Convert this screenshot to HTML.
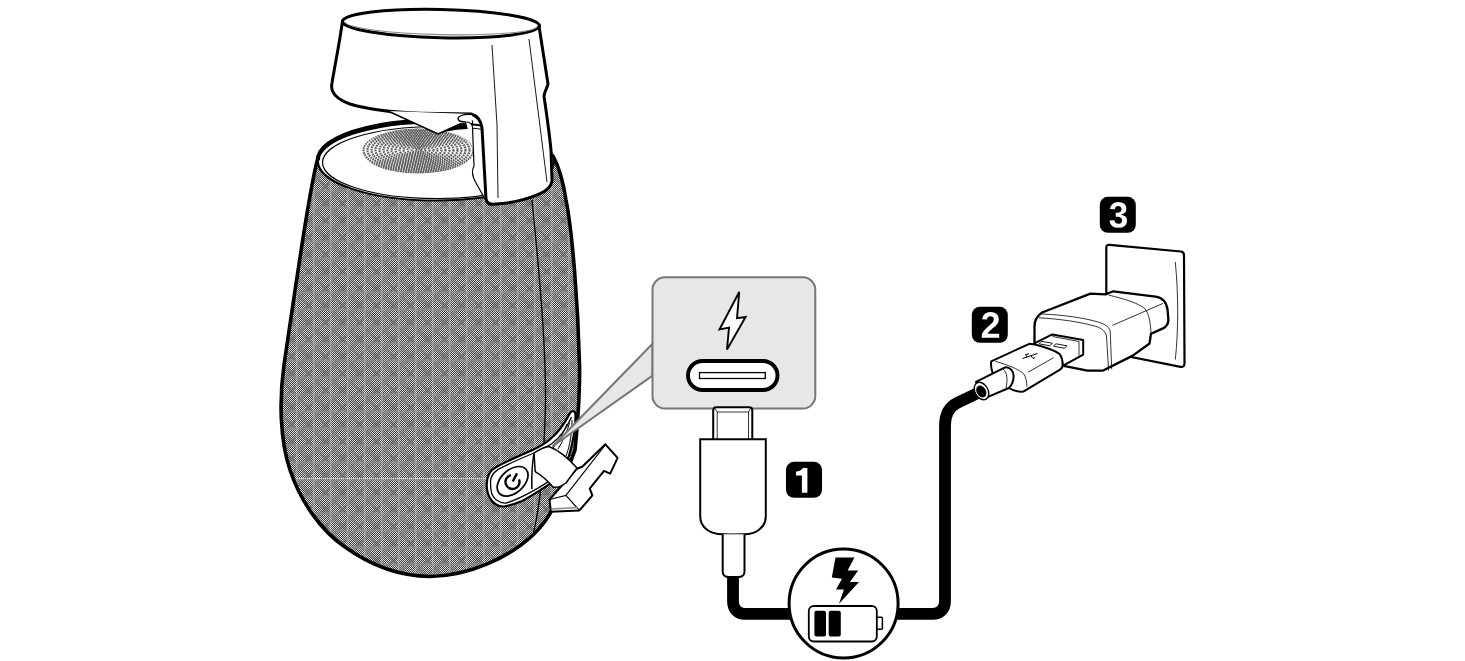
<!DOCTYPE html>
<html><head><meta charset="utf-8">
<style>
html,body{margin:0;padding:0;background:#fff;width:1465px;height:661px;overflow:hidden}
svg{display:block}
</style></head>
<body>
<svg width="1465" height="661" viewBox="0 0 1465 661">
<defs>
  <pattern id="chk" width="2" height="2" patternUnits="userSpaceOnUse">
    <rect width="2" height="2" fill="#fff"/>
    <rect width="1" height="1" fill="#000"/>
    <rect x="1" y="1" width="1" height="1" fill="#000"/>
  </pattern>
  <pattern id="fab" width="34" height="34" patternUnits="userSpaceOnUse" x="11" y="8">
    <rect width="34" height="34" fill="#e2e2e2"/>
    <path d="M0,0h1v1h-1zM2,0h1v1h-1zM4,0h1v1h-1zM6,0h1v1h-1zM8,0h1v1h-1zM10,0h1v1h-1zM12,0h1v1h-1zM14,0h1v1h-1zM16,0h1v1h-1zM18,0h1v1h-1zM20,0h1v1h-1zM22,0h1v1h-1zM24,0h1v1h-1zM26,0h1v1h-1zM28,0h1v1h-1zM30,0h1v1h-1zM32,0h1v1h-1zM1,1h1v1h-1zM3,1h1v1h-1zM5,1h1v1h-1zM7,1h1v1h-1zM9,1h1v1h-1zM11,1h1v1h-1zM13,1h1v1h-1zM15,1h1v1h-1zM17,1h1v1h-1zM19,1h1v1h-1zM21,1h1v1h-1zM23,1h1v1h-1zM25,1h1v1h-1zM27,1h1v1h-1zM29,1h1v1h-1zM31,1h1v1h-1zM33,1h1v1h-1zM0,2h1v1h-1zM2,2h1v1h-1zM4,2h1v1h-1zM6,2h1v1h-1zM8,2h1v1h-1zM10,2h1v1h-1zM12,2h1v1h-1zM14,2h1v1h-1zM16,2h1v1h-1zM18,2h1v1h-1zM20,2h1v1h-1zM22,2h1v1h-1zM24,2h1v1h-1zM26,2h1v1h-1zM28,2h1v1h-1zM30,2h1v1h-1zM32,2h1v1h-1zM1,3h1v1h-1zM3,3h1v1h-1zM5,3h1v1h-1zM7,3h1v1h-1zM9,3h1v1h-1zM11,3h1v1h-1zM13,3h1v1h-1zM15,3h1v1h-1zM17,3h1v1h-1zM19,3h1v1h-1zM21,3h1v1h-1zM23,3h1v1h-1zM25,3h1v1h-1zM27,3h1v1h-1zM29,3h1v1h-1zM31,3h1v1h-1zM33,3h1v1h-1zM0,4h1v1h-1zM2,4h1v1h-1zM4,4h1v1h-1zM6,4h1v1h-1zM8,4h1v1h-1zM10,4h1v1h-1zM12,4h1v1h-1zM14,4h1v1h-1zM16,4h1v1h-1zM18,4h1v1h-1zM20,4h1v1h-1zM22,4h1v1h-1zM24,4h1v1h-1zM26,4h1v1h-1zM28,4h1v1h-1zM30,4h1v1h-1zM32,4h1v1h-1zM1,5h1v1h-1zM3,5h1v1h-1zM5,5h1v1h-1zM7,5h1v1h-1zM9,5h1v1h-1zM11,5h1v1h-1zM13,5h1v1h-1zM15,5h1v1h-1zM17,5h1v1h-1zM19,5h1v1h-1zM21,5h1v1h-1zM23,5h1v1h-1zM25,5h1v1h-1zM27,5h1v1h-1zM29,5h1v1h-1zM31,5h1v1h-1zM33,5h1v1h-1zM0,6h1v1h-1zM2,6h1v1h-1zM4,6h1v1h-1zM6,6h1v1h-1zM8,6h1v1h-1zM10,6h1v1h-1zM12,6h1v1h-1zM14,6h1v1h-1zM16,6h1v1h-1zM18,6h1v1h-1zM20,6h1v1h-1zM22,6h1v1h-1zM24,6h1v1h-1zM26,6h1v1h-1zM28,6h1v1h-1zM30,6h1v1h-1zM32,6h1v1h-1zM1,7h1v1h-1zM3,7h1v1h-1zM5,7h1v1h-1zM7,7h1v1h-1zM9,7h1v1h-1zM11,7h1v1h-1zM13,7h1v1h-1zM15,7h1v1h-1zM17,7h1v1h-1zM19,7h1v1h-1zM21,7h1v1h-1zM23,7h1v1h-1zM25,7h1v1h-1zM27,7h1v1h-1zM29,7h1v1h-1zM31,7h1v1h-1zM33,7h1v1h-1zM0,8h1v1h-1zM2,8h1v1h-1zM4,8h1v1h-1zM6,8h1v1h-1zM8,8h1v1h-1zM10,8h1v1h-1zM12,8h1v1h-1zM14,8h1v1h-1zM16,8h1v1h-1zM18,8h1v1h-1zM20,8h1v1h-1zM22,8h1v1h-1zM24,8h1v1h-1zM26,8h1v1h-1zM28,8h1v1h-1zM30,8h1v1h-1zM32,8h1v1h-1zM1,9h1v1h-1zM3,9h1v1h-1zM5,9h1v1h-1zM7,9h1v1h-1zM9,9h1v1h-1zM11,9h1v1h-1zM13,9h1v1h-1zM15,9h1v1h-1zM17,9h1v1h-1zM19,9h1v1h-1zM21,9h1v1h-1zM23,9h1v1h-1zM25,9h1v1h-1zM27,9h1v1h-1zM29,9h1v1h-1zM31,9h1v1h-1zM33,9h1v1h-1zM0,10h1v1h-1zM2,10h1v1h-1zM4,10h1v1h-1zM6,10h1v1h-1zM8,10h1v1h-1zM10,10h1v1h-1zM12,10h1v1h-1zM14,10h1v1h-1zM16,10h1v1h-1zM18,10h1v1h-1zM20,10h1v1h-1zM22,10h1v1h-1zM24,10h1v1h-1zM26,10h1v1h-1zM28,10h1v1h-1zM30,10h1v1h-1zM32,10h1v1h-1zM1,11h1v1h-1zM3,11h1v1h-1zM5,11h1v1h-1zM7,11h1v1h-1zM9,11h1v1h-1zM11,11h1v1h-1zM13,11h1v1h-1zM15,11h1v1h-1zM17,11h1v1h-1zM19,11h1v1h-1zM21,11h1v1h-1zM23,11h1v1h-1zM25,11h1v1h-1zM27,11h1v1h-1zM29,11h1v1h-1zM31,11h1v1h-1zM33,11h1v1h-1zM0,12h1v1h-1zM2,12h1v1h-1zM4,12h1v1h-1zM6,12h1v1h-1zM8,12h1v1h-1zM10,12h1v1h-1zM12,12h1v1h-1zM14,12h1v1h-1zM16,12h1v1h-1zM18,12h1v1h-1zM20,12h1v1h-1zM22,12h1v1h-1zM24,12h1v1h-1zM26,12h1v1h-1zM28,12h1v1h-1zM30,12h1v1h-1zM32,12h1v1h-1zM1,13h1v1h-1zM3,13h1v1h-1zM5,13h1v1h-1zM7,13h1v1h-1zM9,13h1v1h-1zM11,13h1v1h-1zM13,13h1v1h-1zM15,13h1v1h-1zM17,13h1v1h-1zM19,13h1v1h-1zM21,13h1v1h-1zM23,13h1v1h-1zM25,13h1v1h-1zM27,13h1v1h-1zM29,13h1v1h-1zM31,13h1v1h-1zM33,13h1v1h-1zM0,14h1v1h-1zM2,14h1v1h-1zM4,14h1v1h-1zM6,14h1v1h-1zM8,14h1v1h-1zM10,14h1v1h-1zM12,14h1v1h-1zM14,14h1v1h-1zM16,14h1v1h-1zM18,14h1v1h-1zM20,14h1v1h-1zM22,14h1v1h-1zM24,14h1v1h-1zM26,14h1v1h-1zM28,14h1v1h-1zM30,14h1v1h-1zM32,14h1v1h-1zM1,15h1v1h-1zM3,15h1v1h-1zM5,15h1v1h-1zM7,15h1v1h-1zM9,15h1v1h-1zM11,15h1v1h-1zM13,15h1v1h-1zM15,15h1v1h-1zM17,15h1v1h-1zM19,15h1v1h-1zM21,15h1v1h-1zM23,15h1v1h-1zM25,15h1v1h-1zM27,15h1v1h-1zM29,15h1v1h-1zM31,15h1v1h-1zM33,15h1v1h-1zM0,16h1v1h-1zM2,16h1v1h-1zM4,16h1v1h-1zM6,16h1v1h-1zM8,16h1v1h-1zM10,16h1v1h-1zM12,16h1v1h-1zM14,16h1v1h-1zM16,16h1v1h-1zM18,16h1v1h-1zM20,16h1v1h-1zM22,16h1v1h-1zM24,16h1v1h-1zM26,16h1v1h-1zM28,16h1v1h-1zM30,16h1v1h-1zM32,16h1v1h-1zM1,17h1v1h-1zM3,17h1v1h-1zM5,17h1v1h-1zM7,17h1v1h-1zM9,17h1v1h-1zM11,17h1v1h-1zM13,17h1v1h-1zM15,17h1v1h-1zM17,17h1v1h-1zM19,17h1v1h-1zM21,17h1v1h-1zM23,17h1v1h-1zM25,17h1v1h-1zM27,17h1v1h-1zM29,17h1v1h-1zM31,17h1v1h-1zM33,17h1v1h-1zM0,18h1v1h-1zM2,18h1v1h-1zM4,18h1v1h-1zM6,18h1v1h-1zM8,18h1v1h-1zM10,18h1v1h-1zM12,18h1v1h-1zM14,18h1v1h-1zM16,18h1v1h-1zM18,18h1v1h-1zM20,18h1v1h-1zM22,18h1v1h-1zM24,18h1v1h-1zM26,18h1v1h-1zM28,18h1v1h-1zM30,18h1v1h-1zM32,18h1v1h-1zM1,19h1v1h-1zM3,19h1v1h-1zM5,19h1v1h-1zM7,19h1v1h-1zM9,19h1v1h-1zM11,19h1v1h-1zM13,19h1v1h-1zM15,19h1v1h-1zM17,19h1v1h-1zM19,19h1v1h-1zM21,19h1v1h-1zM23,19h1v1h-1zM25,19h1v1h-1zM27,19h1v1h-1zM29,19h1v1h-1zM31,19h1v1h-1zM33,19h1v1h-1zM0,20h1v1h-1zM2,20h1v1h-1zM4,20h1v1h-1zM6,20h1v1h-1zM8,20h1v1h-1zM10,20h1v1h-1zM12,20h1v1h-1zM14,20h1v1h-1zM16,20h1v1h-1zM18,20h1v1h-1zM20,20h1v1h-1zM22,20h1v1h-1zM24,20h1v1h-1zM26,20h1v1h-1zM28,20h1v1h-1zM30,20h1v1h-1zM32,20h1v1h-1zM1,21h1v1h-1zM3,21h1v1h-1zM5,21h1v1h-1zM7,21h1v1h-1zM9,21h1v1h-1zM11,21h1v1h-1zM13,21h1v1h-1zM15,21h1v1h-1zM17,21h1v1h-1zM19,21h1v1h-1zM21,21h1v1h-1zM23,21h1v1h-1zM25,21h1v1h-1zM27,21h1v1h-1zM29,21h1v1h-1zM31,21h1v1h-1zM33,21h1v1h-1zM0,22h1v1h-1zM2,22h1v1h-1zM4,22h1v1h-1zM6,22h1v1h-1zM8,22h1v1h-1zM10,22h1v1h-1zM12,22h1v1h-1zM14,22h1v1h-1zM16,22h1v1h-1zM18,22h1v1h-1zM20,22h1v1h-1zM22,22h1v1h-1zM24,22h1v1h-1zM26,22h1v1h-1zM28,22h1v1h-1zM30,22h1v1h-1zM32,22h1v1h-1zM1,23h1v1h-1zM3,23h1v1h-1zM5,23h1v1h-1zM7,23h1v1h-1zM9,23h1v1h-1zM11,23h1v1h-1zM13,23h1v1h-1zM15,23h1v1h-1zM17,23h1v1h-1zM19,23h1v1h-1zM21,23h1v1h-1zM23,23h1v1h-1zM25,23h1v1h-1zM27,23h1v1h-1zM29,23h1v1h-1zM31,23h1v1h-1zM33,23h1v1h-1zM0,24h1v1h-1zM2,24h1v1h-1zM4,24h1v1h-1zM6,24h1v1h-1zM8,24h1v1h-1zM10,24h1v1h-1zM12,24h1v1h-1zM14,24h1v1h-1zM16,24h1v1h-1zM18,24h1v1h-1zM20,24h1v1h-1zM22,24h1v1h-1zM24,24h1v1h-1zM26,24h1v1h-1zM28,24h1v1h-1zM30,24h1v1h-1zM32,24h1v1h-1zM1,25h1v1h-1zM3,25h1v1h-1zM5,25h1v1h-1zM7,25h1v1h-1zM9,25h1v1h-1zM11,25h1v1h-1zM13,25h1v1h-1zM15,25h1v1h-1zM17,25h1v1h-1zM19,25h1v1h-1zM21,25h1v1h-1zM23,25h1v1h-1zM25,25h1v1h-1zM27,25h1v1h-1zM29,25h1v1h-1zM31,25h1v1h-1zM33,25h1v1h-1zM0,26h1v1h-1zM2,26h1v1h-1zM4,26h1v1h-1zM6,26h1v1h-1zM8,26h1v1h-1zM10,26h1v1h-1zM12,26h1v1h-1zM14,26h1v1h-1zM16,26h1v1h-1zM18,26h1v1h-1zM20,26h1v1h-1zM22,26h1v1h-1zM24,26h1v1h-1zM26,26h1v1h-1zM28,26h1v1h-1zM30,26h1v1h-1zM32,26h1v1h-1zM1,27h1v1h-1zM3,27h1v1h-1zM5,27h1v1h-1zM7,27h1v1h-1zM9,27h1v1h-1zM11,27h1v1h-1zM13,27h1v1h-1zM15,27h1v1h-1zM17,27h1v1h-1zM19,27h1v1h-1zM21,27h1v1h-1zM23,27h1v1h-1zM25,27h1v1h-1zM27,27h1v1h-1zM29,27h1v1h-1zM31,27h1v1h-1zM33,27h1v1h-1zM0,28h1v1h-1zM2,28h1v1h-1zM4,28h1v1h-1zM6,28h1v1h-1zM8,28h1v1h-1zM10,28h1v1h-1zM12,28h1v1h-1zM14,28h1v1h-1zM16,28h1v1h-1zM18,28h1v1h-1zM20,28h1v1h-1zM22,28h1v1h-1zM24,28h1v1h-1zM26,28h1v1h-1zM28,28h1v1h-1zM30,28h1v1h-1zM32,28h1v1h-1zM1,29h1v1h-1zM3,29h1v1h-1zM5,29h1v1h-1zM7,29h1v1h-1zM9,29h1v1h-1zM11,29h1v1h-1zM13,29h1v1h-1zM15,29h1v1h-1zM17,29h1v1h-1zM19,29h1v1h-1zM21,29h1v1h-1zM23,29h1v1h-1zM25,29h1v1h-1zM27,29h1v1h-1zM29,29h1v1h-1zM31,29h1v1h-1zM33,29h1v1h-1zM0,30h1v1h-1zM2,30h1v1h-1zM4,30h1v1h-1zM6,30h1v1h-1zM8,30h1v1h-1zM10,30h1v1h-1zM12,30h1v1h-1zM14,30h1v1h-1zM16,30h1v1h-1zM18,30h1v1h-1zM20,30h1v1h-1zM22,30h1v1h-1zM24,30h1v1h-1zM26,30h1v1h-1zM28,30h1v1h-1zM30,30h1v1h-1zM32,30h1v1h-1zM1,31h1v1h-1zM3,31h1v1h-1zM5,31h1v1h-1zM7,31h1v1h-1zM9,31h1v1h-1zM11,31h1v1h-1zM13,31h1v1h-1zM15,31h1v1h-1zM17,31h1v1h-1zM19,31h1v1h-1zM21,31h1v1h-1zM23,31h1v1h-1zM25,31h1v1h-1zM27,31h1v1h-1zM29,31h1v1h-1zM31,31h1v1h-1zM33,31h1v1h-1zM0,32h1v1h-1zM2,32h1v1h-1zM4,32h1v1h-1zM6,32h1v1h-1zM8,32h1v1h-1zM10,32h1v1h-1zM12,32h1v1h-1zM14,32h1v1h-1zM16,32h1v1h-1zM18,32h1v1h-1zM20,32h1v1h-1zM22,32h1v1h-1zM24,32h1v1h-1zM26,32h1v1h-1zM28,32h1v1h-1zM30,32h1v1h-1zM32,32h1v1h-1zM1,33h1v1h-1zM3,33h1v1h-1zM5,33h1v1h-1zM7,33h1v1h-1zM9,33h1v1h-1zM11,33h1v1h-1zM13,33h1v1h-1zM15,33h1v1h-1zM17,33h1v1h-1zM19,33h1v1h-1zM21,33h1v1h-1zM23,33h1v1h-1zM25,33h1v1h-1zM27,33h1v1h-1zM29,33h1v1h-1zM31,33h1v1h-1zM33,33h1v1h-1z" fill="#363636"/>
    <g transform="translate(0,0)">
      <path d="M0,0 L17,17 M17,0 L0,17" stroke="#7c7c7c" stroke-width="3.2" opacity="0.55"/>
      <path d="M5.5,5.5 L11.5,11.5 M11.5,5.5 L5.5,11.5" stroke="#3a3a3a" stroke-width="1.6" opacity="0.25"/>
      <rect x="0" y="11" width="17" height="3" fill="#8e8e8e" opacity="0.45"/>
      <rect x="13" y="0" width="1.5" height="17" fill="#d4d4d4" opacity="0.35"/>
    </g><g transform="translate(0,17)">
      <path d="M0,0 L17,17 M17,0 L0,17" stroke="#7c7c7c" stroke-width="3.2" opacity="0.55"/>
      <path d="M5.5,5.5 L11.5,11.5 M11.5,5.5 L5.5,11.5" stroke="#3a3a3a" stroke-width="1.6" opacity="0.25"/>
      <rect x="0" y="11" width="17" height="3" fill="#8e8e8e" opacity="0.45"/>
      <rect x="13" y="0" width="1.5" height="17" fill="#d4d4d4" opacity="0.35"/>
    </g><g transform="translate(17,0)">
      <path d="M0,0 L17,17 M17,0 L0,17" stroke="#7c7c7c" stroke-width="3.2" opacity="0.55"/>
      <path d="M5.5,5.5 L11.5,11.5 M11.5,5.5 L5.5,11.5" stroke="#3a3a3a" stroke-width="1.6" opacity="0.25"/>
      <rect x="0" y="11" width="17" height="3" fill="#8e8e8e" opacity="0.45"/>
      <rect x="13" y="0" width="1.5" height="17" fill="#d4d4d4" opacity="0.35"/>
    </g><g transform="translate(17,17)">
      <path d="M0,0 L17,17 M17,0 L0,17" stroke="#7c7c7c" stroke-width="3.2" opacity="0.55"/>
      <path d="M5.5,5.5 L11.5,11.5 M11.5,5.5 L5.5,11.5" stroke="#3a3a3a" stroke-width="1.6" opacity="0.25"/>
      <rect x="0" y="11" width="17" height="3" fill="#8e8e8e" opacity="0.45"/>
      <rect x="13" y="0" width="1.5" height="17" fill="#d4d4d4" opacity="0.35"/>
    </g>
  </pattern>
  <pattern id="grl" width="3" height="3" patternUnits="userSpaceOnUse">
    <rect width="3" height="3" fill="#fff"/>
    <rect width="2" height="2" fill="#555"/>
  </pattern>
</defs>

<!-- ===== SPEAKER BODY ===== -->
<path d="M318.5,156 C311,180 298,270 284,365 C279,400 280,440 290,470 C300,500 320,530 345,547 C370,565 400,576 430,576.5 C470,576 510,557 534,534 C546,522 553,510 556,500 L575,450 C578,420 580,390 579.5,365 C578,300 572,230 566,200 C563,180 558,165 553,156 Z" fill="url(#fab)" stroke="#000" stroke-width="3.6"/>
<!-- horizontal seam -->
<path d="M297,478.4 L488,478.4" stroke="#fff" stroke-width="1" stroke-dasharray="1 1" opacity="0.9"/>
<!-- inner seam line -->
<path d="M532,200 C538,260 548,360 545,420 C543,470 541,500 533.7,532" fill="none" stroke="#000" stroke-width="1.3"/>

<!-- top disc -->
<ellipse cx="436" cy="161.5" rx="118" ry="39" fill="#fff" stroke="#000" stroke-width="2"/>
<ellipse cx="436.5" cy="162.5" rx="114" ry="36" fill="none" stroke="#000" stroke-width="1.2"/>
<path d="M318,161.5 A118,39 0 0 1 473,123.5" transform="translate(0,-1.2)" fill="none" stroke="#000" stroke-width="3.8"/>
<!-- grille -->
<clipPath id="grclip"><ellipse cx="418" cy="151" rx="56" ry="22.5"/></clipPath>
<g clip-path="url(#grclip)" fill="none" stroke="#5a5a5a" stroke-width="2.2" stroke-dasharray="1.7 0.8">
  <ellipse cx="418.5" cy="150" rx="3" ry="1.3"/>
  <ellipse cx="418.5" cy="150" rx="7" ry="2.9"/>
  <ellipse cx="418.5" cy="150" rx="11" ry="4.5"/>
  <ellipse cx="418.5" cy="150" rx="15" ry="6.1"/>
  <ellipse cx="418.5" cy="150" rx="19" ry="7.7"/>
  <ellipse cx="418.5" cy="150" rx="23" ry="9.3"/>
  <ellipse cx="418.5" cy="150" rx="27" ry="10.9"/>
  <ellipse cx="418.5" cy="150" rx="31" ry="12.5"/>
  <ellipse cx="418.5" cy="150" rx="35" ry="14.1"/>
  <ellipse cx="418.5" cy="150" rx="39" ry="15.7"/>
  <ellipse cx="418.5" cy="150" rx="43" ry="17.3"/>
  <ellipse cx="418.5" cy="150" rx="47" ry="18.9"/>
  <ellipse cx="418.5" cy="150" rx="51" ry="20.5"/>
  <ellipse cx="418.5" cy="150" rx="55" ry="22.1"/>
  <ellipse cx="418.5" cy="150" rx="59" ry="23.7"/>
</g>

<!-- ===== CAP ===== -->
<path d="M342.5,21 C340,40 335,65 332,83 C330,92 336,99 350,104 C370,110 395,112.5 420,113.2 L471,114 C478,116 481,121 482,128 L486,199 C487,204 491,205 496,204 C515,203 535,197 545,191 C549,188 552,185 552,180 L551,150 C549,130 546,110 544,96 C545,90 548,86 548,84 L539,26 Z" fill="#fff" stroke="#000" stroke-width="3" stroke-linejoin="round"/>
<!-- underside V -->
<path d="M388,111 L438,134 L461,123.5 L472,123 L471,114 Z" fill="#fff"/>
<path d="M438,134 L461,123.5 L472.5,123 L473,129 C460,129 450,130 438,134 Z" fill="#000"/>
<path d="M388,111 L438,134 L461,123.5" fill="none" stroke="#000" stroke-width="1.5" stroke-linejoin="miter"/>
<path d="M466,122 C470,122 472,124 472.5,127 L474,166 C471,171 472,176 476,183 L485,199" fill="#fff" stroke="#000" stroke-width="1.2"/>
<path d="M473,114.5 C465,114 459,115 458,118.5 C458,121 462,122 466,122" fill="#fff" stroke="#000" stroke-width="1.4"/>
<!-- cap top ellipse -->
<ellipse cx="441" cy="23.6" rx="98.5" ry="14.1" transform="rotate(1.3 441 23.6)" fill="#fff" stroke="#000" stroke-width="3"/>
<path d="M345,24 A96,10.6 0 0 0 537,24" transform="rotate(1.3 441 24.5)" fill="none" stroke="#888" stroke-width="1.1"/>
<!-- cap lines -->
<path d="M492,45 L497,125 L498,198" fill="none" stroke="#000" stroke-width="0.9"/>
<path d="M529,39 L547,182" fill="none" stroke="#000" stroke-width="0.9"/>

<!-- ===== POWER TAB / CLIP ===== -->
<!-- clip block -->
<path d="M549.5,499.5 L576.8,468.8 L582.2,466.8 L605.4,444.3 L617.6,457.9 L610.2,473.6 L604,470.9 L589.7,488.6 L592.4,495.4 L579.5,510.4 L550.9,511.7 Z" fill="#fff" stroke="#000" stroke-width="2" stroke-linejoin="round"/>
<path d="M549.5,499.5 L565.9,495.4 L579.5,510.4 M565.9,495.4 L604.5,446" fill="none" stroke="#000" stroke-width="1.2"/>
<path d="M551,509 L578,507.5" fill="none" stroke="#888" stroke-width="1.5"/>
<!-- strap loop -->
<path d="M486.7,485.7 C486.5,477 490,470 496,467.2 C505,462 520,455.5 533,449.8 C540,446.5 545,443.5 549.3,440 C558,433 565,423 570,413 C571.5,410.5 575,410.5 575.5,414 C576,428 573,442 569,456 L554,481.4 C548,485 545,487 540.6,490 C534,494 528,498 522.1,501 C516,503.5 510,505.5 504.7,506.4 C494,507.5 487,497 486.7,485.7 Z" fill="#fff" stroke="#000" stroke-width="2.2" stroke-linejoin="round"/>
<path d="M571.5,417 C567,427 561,437 552,443.5 C546,447 540,450 534,453 C522,458 508,464 498.2,469.4 C493,473 490.5,477 490.5,481.4 C490.5,486 490.8,490 491.6,493.3 C493,497 495,499.5 498.2,501 C500.5,502.5 503,503.2 505.8,503.1 C517,500 528,494 538.4,487.9 L554,478.1" fill="none" stroke="#000" stroke-width="1.3"/>
<path d="M572,420 C572,432 570,446 566,456 M558,449 C563,441 567,432 569.5,423 M553,448 C559,441 564,432 567,424" fill="none" stroke="#000" stroke-width="1"/>
<!-- twisted ribbon -->
<path d="M534,453 C540,449 545,447 549,446.5 C558,450 569,459 577,468 L566,483 C560,487 556,488 553,487 C547,480 541,475 535.2,471.6 Z" fill="#fff" stroke="#000" stroke-width="1.5" stroke-linejoin="round"/>
<!-- button pad -->
<path d="M534,453 C532,465 531.5,478 531.9,489" fill="none" stroke="#000" stroke-width="1.5"/>
<ellipse cx="512.6" cy="481.3" rx="18" ry="11.5" transform="rotate(-42 512.6 481.3)" fill="#fff" stroke="#000" stroke-width="1.7"/>
<g transform="rotate(28 512.5 481.9)">
<path d="M508,476.6 A7,7 0 1 0 517,476.6" fill="none" stroke="#000" stroke-width="2.4"/>
<line x1="512.5" y1="472.3" x2="512.5" y2="481.5" stroke="#000" stroke-width="2.4"/>
</g>

<!-- ===== CALLOUT ===== -->
<path d="M652.5,343.8 L553,446 L652.5,375.6 Z" fill="#e6e7e8" stroke="#767676" stroke-width="2" stroke-linejoin="round"/>
<rect x="652.5" y="277.3" width="162.8" height="131.2" rx="12.5" fill="#e6e7e8" stroke="#767676" stroke-width="2"/>
<rect x="654" y="344.8" width="4" height="29.8" fill="#e6e7e8"/>
<!-- lightning outline -->
<path d="M739.2,292 L719.5,329.5 L729,327.6 L727,349.5 L745.6,317 L737,318.2 Z" fill="#fff" stroke="#000" stroke-width="1.9" stroke-linejoin="miter"/>
<!-- usb-c port -->
<rect x="688" y="361" width="89.5" height="29" rx="14.5" fill="#fff" stroke="#000" stroke-width="3.9"/>
<rect x="699.5" y="372.6" width="65.8" height="5.9" fill="#fff" stroke="#000" stroke-width="1.3"/>

<!-- ===== USB-C PLUG ===== -->
<path d="M713.2,440 L713.2,410.5 C713.2,408.5 714.5,407.2 716.5,407.2 L749,407.2 C751,407.2 752.3,408.5 752.3,410.5 L752.3,440 Z" fill="#fff" stroke="#000" stroke-width="2"/>
<path d="M717.2,440 L717.2,412 L748.5,412 L748.5,440 M715,408.5 L717.2,412 M750.5,408.5 L748.5,412" fill="none" stroke="#000" stroke-width="0.8"/>
<path d="M700.2,439.2 L765.8,439.2 L765.8,516.5 C765.8,528 755,534.3 744.5,534.3 L722.7,534.3 C711,534.3 700.2,528 700.2,516.5 Z" fill="#fff" stroke="#000" stroke-width="2"/>
<path d="M722.7,534.3 L722.7,571.5 C722.7,575 725,577.1 729,577.1 L738,577.1 C742,577.1 744.5,575 744.5,571.5 L744.5,534.3" fill="#fff" stroke="#000" stroke-width="2"/>
<path d="M727,533.8 L739,533.8" stroke="#999" stroke-width="0.8"/>

<!-- ===== CABLE ===== -->
<path d="M733,576 L733,601 C733,609 737.5,613.8 745,613.8 L800,613.8 M890,613.8 L932.5,613.8 C940.5,613.8 945,609 945,601 L945,426 C945,414 949,407 957,403 L982,391" fill="none" stroke="#000" stroke-width="11.8"/>

<!-- ===== CHARGE CIRCLE ===== -->
<circle cx="843.6" cy="603.5" r="54.5" fill="#fff" stroke="#000" stroke-width="3"/>
<path d="M835.5,557.6 L854.5,557.6 L847.6,570.4 L858.2,570.4 L849.9,582.1 L859,582.1 L839,603.7 L843.9,589.6 L836,589.6 L842,578.7 L831.8,577.5 Z" fill="#000"/>
<rect x="808.8" y="606" width="68" height="35.5" rx="5" fill="#fff" stroke="#000" stroke-width="1.8"/>
<rect x="877" y="617.3" width="5.4" height="12" rx="1" fill="#fff" stroke="#000" stroke-width="1.5"/>
<rect x="814.4" y="610.8" width="11.6" height="25.7" rx="2" fill="#000"/>
<rect x="828.7" y="610.8" width="12.1" height="25.7" rx="2" fill="#000"/>

<!-- ===== BADGES ===== -->
<rect x="786" y="461.8" width="36" height="36" rx="8" fill="#000"/>
<path d="M803,467.9 L807.4,467.9 L807.4,492.8 L801.9,492.8 L801.9,475.6 L796,475.6 L796,471.6 C799,471.2 801.6,470 803,467.9 Z" fill="#fff"/>
<rect x="971.8" y="306.8" width="36" height="36" rx="8" fill="#000"/>
<rect x="1099.8" y="196.8" width="36" height="36" rx="8" fill="#000"/>
<path transform="translate(980.547,337.800) scale(0.01765,-0.01797)" d="M71 0V195Q126 316 227.5 431.0Q329 546 483 671Q631 791 690.5 869.0Q750 947 750 1022Q750 1206 565 1206Q475 1206 427.5 1157.5Q380 1109 366 1012L83 1028Q107 1224 229.5 1327.0Q352 1430 563 1430Q791 1430 913.0 1326.0Q1035 1222 1035 1034Q1035 935 996.0 855.0Q957 775 896.0 707.5Q835 640 760.5 581.0Q686 522 616.0 466.0Q546 410 488.5 353.0Q431 296 403 231H1057V0Z" fill="#fff"/>
<path transform="translate(1108.692,227.393) scale(0.01719,-0.01769)" d="M1065 391Q1065 193 935.0 85.0Q805 -23 565 -23Q338 -23 204.0 81.5Q70 186 47 383L333 408Q360 205 564 205Q665 205 721.0 255.0Q777 305 777 408Q777 502 709.0 552.0Q641 602 507 602H409V829H501Q622 829 683.0 878.5Q744 928 744 1020Q744 1107 695.5 1156.5Q647 1206 554 1206Q467 1206 413.5 1158.0Q360 1110 352 1022L71 1042Q93 1224 222.0 1327.0Q351 1430 559 1430Q780 1430 904.5 1330.5Q1029 1231 1029 1055Q1029 923 951.5 838.0Q874 753 728 725V721Q890 702 977.5 614.5Q1065 527 1065 391Z" fill="#fff"/>

<!-- ===== WALL PLATE ===== -->
<path d="M1106.3,247.5 C1106.3,245.5 1107.5,244.6 1109.5,244.8 L1181,251.5 C1183,251.8 1184,253 1184,255.5 L1184.5,363.5 C1184.5,366 1183,367.3 1180.5,366.8 L1106.3,352 Z" fill="#fff" stroke="#000" stroke-width="2.2" stroke-linejoin="round"/>
<path d="M1175.3,262 C1178.5,295 1178.5,330 1175.3,359.6" fill="none" stroke="#000" stroke-width="0.8"/>

<!-- ===== CHARGER ===== -->
<path d="M1042.1,312.5 C1037,316 1034.5,320 1034.5,326 L1034.5,352 L1064.8,366.2 L1087.5,370.7 L1102.6,370.7 L1132.8,355.6 L1149.5,343.5 L1151,333.7 L1163,328.4 C1166.5,326.5 1168.4,324.5 1168.4,320 L1167.6,310 C1166.5,302 1162,297.5 1155.5,296.6 L1113.2,291.3 L1105.6,294.4 L1090.5,293.6 Z" fill="#fff" stroke="#000" stroke-width="2.3" stroke-linejoin="round"/>
<path d="M1039,317.8 C1060,319 1080,322 1092,325.4 C1100,327 1105,330 1106.5,336 L1108.6,370.5" fill="none" stroke="#000" stroke-width="0.8"/>
<path d="M1042,314 C1065,315 1083,318 1093.5,320.8 C1103,323 1109,326 1110.2,331 L1111.7,369.2" fill="none" stroke="#000" stroke-width="0.8"/>
<path d="M1108.6,295.1 C1125,299 1138,303 1145,308.7 C1149,314 1150.5,322 1151,333" fill="none" stroke="#000" stroke-width="0.8"/>
<path d="M1112.4,325.4 L1163,303.4" fill="none" stroke="#000" stroke-width="0.8"/>

<!-- ===== USB-A PLUG ===== -->
<!-- metal shell -->
<path d="M1034.8,343.2 L1052.3,334.4 L1083.2,340.1 L1083.2,354.7 L1063.2,365.6 L1040,360 Z" fill="#fff" stroke="#000" stroke-width="2" stroke-linejoin="round"/>
<path d="M1052.3,336.5 L1079,341.5 L1079,355.5" fill="none" stroke="#000" stroke-width="0.8"/>
<path d="M1041.4,341.3 L1052.3,343.2 L1049.9,345.8 L1039,343.8 Z M1056,343.8 L1066.9,345.8 L1064.5,348.3 L1053.6,346.2 Z" fill="none" stroke="#000" stroke-width="0.9"/>
<!-- housing -->
<path d="M991.2,361.3 L1029.3,343.8 L1034.8,344.4 C1045,347 1055,350 1059.6,354.1 C1062,357 1062.6,361 1062.6,365 C1062.6,367 1061.5,369 1059.6,369.8 L1023.3,391.6 C1017,392 1012,390 1008.8,388 L992.4,372.2 C991,368 990.8,364 991.2,361.3 Z" fill="#fff" stroke="#000" stroke-width="2" stroke-linejoin="round"/>
<path d="M995.4,361.3 C1008,365 1018,369 1023.3,373.4 C1026,377 1026.9,382 1026.9,386.8" fill="none" stroke="#000" stroke-width="0.8"/>
<path d="M1035.4,345 C1045,348 1055,351 1060.2,354.7 C1062.5,358 1063.2,362 1063.2,365" fill="none" stroke="#000" stroke-width="0.8"/>
<path d="M1028.1,372.2 L1053.6,357.7" fill="none" stroke="#000" stroke-width="0.8"/>
<path d="M1022.5,358.5 L1037.5,353.5 M1027,357 L1025.5,354.5 L1029,353.8 M1031,355.8 L1033,358.5 L1035,357.5" fill="none" stroke="#000" stroke-width="1"/>
<!-- ferrule -->
<path d="M976,381.9 L1005.1,367.4 C1010,367 1013.6,371 1013.6,375.9 C1013.6,381 1011,386 1008.8,388 L983.3,398.9 Z" fill="#fff" stroke="#000" stroke-width="2" stroke-linejoin="round"/>
<ellipse cx="981.5" cy="391" rx="6.5" ry="9.3" transform="rotate(-30 981.5 391)" fill="#fff" stroke="#000" stroke-width="1.4"/>
<ellipse cx="981.3" cy="391.5" rx="4.6" ry="6.4" transform="rotate(-30 981.3 391.5)" fill="#000"/>
<path d="M1003,369 C1007,372 1008,380 1006,388" fill="none" stroke="#000" stroke-width="0.8"/>
</svg>
</body></html>
